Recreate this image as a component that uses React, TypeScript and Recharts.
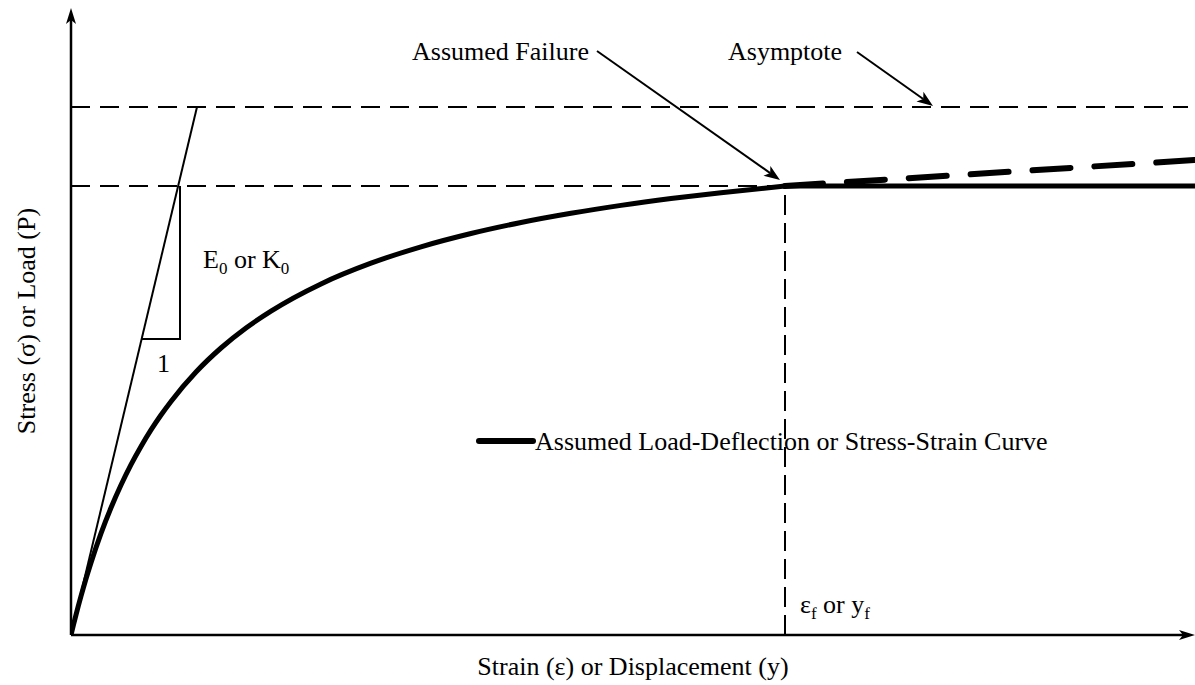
import { LineChart, Line, XAxis, YAxis, ReferenceLine, ReferenceDot } from 'recharts';

// Units: strain along x (0 = origin, 1124 = arrow tip), stress along y (0..628).
const X_MAX = 1124;
const Y_MAX = 628;

const curveStrain = [0, 2.5, 5, 10, 15, 20, 30, 40, 50, 60, 70, 80, 90, 100, 125, 150, 175, 200, 250, 300, 350, 400, 450, 500, 550, 600, 650, 714];
const curveStress = [0, 10.3, 20.2, 38.8, 56.2, 72.3, 101.6, 127.2, 150.0, 170.4, 188.6, 205.1, 220.0, 233.6, 263.0, 287.0, 307.0, 323.9, 351.1, 371.8, 388.2, 401.5, 412.5, 421.7, 429.6, 436.4, 442.3, 449];

const failureStrain = 714;
const failureStress = 449;
const asymptoteStress = 528;

const plateauStrain = [714, 1124];
const plateauStress = [449, 449];

const hardeningStrain = [714, 1124];
const hardeningStress = [449, 475];

const tangentStrain = [0, 126];
const tangentStress = [0, 528];

const slopeStrain = [71, 109, 109];
const slopeStress = [296, 296, 449];

const toPoints = (xs: number[], ys: number[]) => xs.map((x, i) => ({ x, y: ys[i] }));

const FONT = '"Liberation Serif", "Times New Roman", serif';
const INK = '#000';

function arrow(head: number, half: number) {
  return (props: any) => {
    const { x1, y1, x2, y2, strokeWidth } = props;
    const ang = Math.atan2(y2 - y1, x2 - x1);
    const c = Math.cos(ang);
    const s = Math.sin(ang);
    const bx = x2 - head * c;
    const by = y2 - head * s;
    const nx = x2 - head * 0.75 * c;
    const ny = y2 - head * 0.75 * s;
    return (
      <g>
        <line x1={x1} y1={y1} x2={nx} y2={ny} stroke={INK} strokeWidth={strokeWidth} />
        <polygon
          points={`${x2},${y2} ${bx + half * s},${by - half * c} ${nx},${ny} ${bx - half * s},${by + half * c}`}
          fill={INK}
        />
      </g>
    );
  };
}

const Txt = ({ viewBox, children, anchor = 'start', rotate = false }: any) => {
  const x = viewBox?.x ?? 0;
  const y = viewBox?.y ?? 0;
  return (
    <text
      x={x}
      y={y}
      fontFamily={FONT}
      fontSize={26}
      fill={INK}
      textAnchor={anchor}
      transform={rotate ? `rotate(-90 ${x} ${y})` : undefined}
    >
      {children}
    </text>
  );
};

const sub = (t: string) => (
  <tspan fontSize={17} dy={6}>
    {t}
  </tspan>
);

export default function App() {
  const solid = { stroke: INK, dot: false, activeDot: false, isAnimationActive: false, type: 'linear' as const };

  return (
    <div style={{ width: 1195, height: 685, background: '#fff' }}>
      <style>{'body{margin:0}'}</style>
      <LineChart width={1195} height={685} margin={{ top: 7, right: 0, bottom: 50, left: 71 }}>
        <XAxis type="number" dataKey="x" domain={[0, X_MAX]} allowDataOverflow hide />
        <YAxis type="number" dataKey="y" domain={[0, Y_MAX]} allowDataOverflow hide />

        {/* guide lines */}
        <ReferenceLine
          segment={[{ x: 0, y: asymptoteStress }, { x: 1117, y: asymptoteStress }]}
          stroke={INK}
          strokeWidth={2}
          strokeDasharray="19 10"
          ifOverflow="visible"
        />
        <ReferenceLine
          segment={[{ x: 0, y: failureStress }, { x: failureStrain, y: failureStress }]}
          stroke={INK}
          strokeWidth={2}
          strokeDasharray="19 10"
          ifOverflow="visible"
        />
        <ReferenceLine
          segment={[{ x: failureStrain, y: 0 }, { x: failureStrain, y: failureStress }]}
          stroke={INK}
          strokeWidth={2}
          strokeDasharray="20 8"
          ifOverflow="visible"
        />

        <Line data={toPoints(tangentStrain, tangentStress)} dataKey="y" {...solid} strokeWidth={2} />
        <Line data={toPoints(slopeStrain, slopeStress)} dataKey="y" {...solid} strokeWidth={2} />
        <Line
          data={toPoints(hardeningStrain, hardeningStress)}
          dataKey="y"
          {...solid}
          strokeWidth={6}
          strokeDasharray="38 24"
          strokeLinecap="round"
        />
        <Line data={toPoints(plateauStrain, plateauStress)} dataKey="y" {...solid} strokeWidth={5} />
        <Line data={toPoints(curveStrain, curveStress)} dataKey="y" {...solid} type="monotone" strokeWidth={5} />

        {/* axes with arrowheads */}
        <ReferenceLine
          segment={[{ x: 0, y: 0 }, { x: X_MAX, y: 0 }]}
          strokeWidth={2.5}
          ifOverflow="visible"
          shape={arrow(16, 5)}
        />
        <ReferenceLine
          segment={[{ x: 0, y: 0 }, { x: 0, y: 627 }]}
          strokeWidth={2.5}
          ifOverflow="visible"
          shape={arrow(16, 5)}
        />

        {/* callout arrows */}
        <ReferenceLine
          segment={[{ x: 526, y: 584 }, { x: 709, y: 455 }]}
          strokeWidth={2}
          ifOverflow="visible"
          shape={arrow(16, 6)}
        />
        <ReferenceLine
          segment={[{ x: 786, y: 583 }, { x: 862, y: 529 }]}
          strokeWidth={2}
          ifOverflow="visible"
          shape={arrow(16, 6)}
        />

        {/* legend sample */}
        <ReferenceLine
          segment={[{ x: 408, y: 194 }, { x: 462, y: 194 }]}
          stroke={INK}
          strokeWidth={6}
          strokeLinecap="round"
          ifOverflow="visible"
        />

        {/* labels */}
        <ReferenceDot x={341} y={575} r={0} ifOverflow="visible" label={<Txt>Assumed Failure</Txt>} />
        <ReferenceDot x={657} y={575} r={0} ifOverflow="visible" label={<Txt>Asymptote</Txt>} />
        <ReferenceDot
          x={132}
          y={367}
          r={0}
          ifOverflow="visible"
          label={
            <Txt>
              E{sub('0')}
              <tspan dy={-6}> or K</tspan>
              {sub('0')}
            </Txt>
          }
        />
        <ReferenceDot x={86} y={263} r={0} ifOverflow="visible" label={<Txt>1</Txt>} />
        <ReferenceDot
          x={729}
          y={22}
          r={0}
          ifOverflow="visible"
          label={
            <Txt>
              ε{sub('f')}
              <tspan dy={-6}> or y</tspan>
              {sub('f')}
            </Txt>
          }
        />
        <ReferenceDot
          x={464}
          y={185}
          r={0}
          ifOverflow="visible"
          label={<Txt>Assumed Load-Deflection or Stress-Strain Curve</Txt>}
        />
        <ReferenceDot
          x={562}
          y={-40}
          r={0}
          ifOverflow="visible"
          label={<Txt anchor="middle">Strain (ε) or Displacement (y)</Txt>}
        />
        <ReferenceDot
          x={-36}
          y={314}
          r={0}
          ifOverflow="visible"
          label={
            <Txt anchor="middle" rotate>
              Stress (σ) or Load (P)
            </Txt>
          }
        />
      </LineChart>
    </div>
  );
}
